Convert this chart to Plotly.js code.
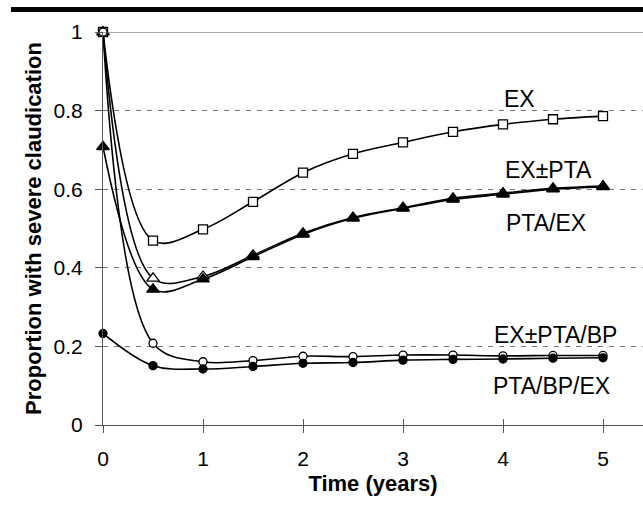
<!DOCTYPE html>
<html>
<head>
<meta charset="utf-8">
<script src="https://cdn.plot.ly/plotly-3.0.1.min.js"></script>
<style>html,body{margin:0;padding:0;background:#fff;}#chart{width:643px;height:512px;}</style>
</head>
<body>
<div id="chart"></div>
<script>
// Data
const times = [0, 0.5, 1, 1.5, 2, 2.5, 3, 3.5, 4, 4.5, 5];
const ex      = [1.000, 0.469, 0.498, 0.568, 0.642, 0.690, 0.719, 0.746, 0.765, 0.778, 0.786];
const exPta   = [1.000, 0.373, 0.378, 0.432, 0.488, 0.528, 0.553, 0.577, 0.590, 0.602, 0.608];
const ptaEx   = [0.708, 0.345, 0.371, 0.428, 0.485, 0.526, 0.551, 0.574, 0.587, 0.600, 0.606];
const exPtaBp = [1.000, 0.208, 0.161, 0.164, 0.175, 0.174, 0.178, 0.178, 0.176, 0.177, 0.177];
const ptaBpEx = [0.233, 0.151, 0.1425, 0.149, 0.157, 0.159, 0.165, 0.167, 0.168, 0.170, 0.171];

const seriesNames = ['EX', 'EX±PTA', 'PTA/EX', 'EX±PTA/BP', 'PTA/BP/EX'];
const labelX = [4.16, 4.45, 4.43, 4.52, 4.48];
const labelY = [0.83, 0.649, 0.514, 0.229, 0.099];

const xTicks = [0, 1, 2, 3, 4, 5];
const yTicks = [0, 0.2, 0.4, 0.6, 0.8, 1];
const yTickText = ['0', '0.2', '0.4', '0.6', '0.8', '1'];

const FONT = 'Liberation Sans, Arial, sans-serif';

function tr(y, sym, fill, size, name) {
  return {
    x: times, y: y, type: 'scatter', mode: 'lines+markers', name: name,
    line: {color: '#000', width: 1.6, shape: 'spline', smoothing: 1},
    marker: {symbol: sym, size: size, color: fill, line: {color: '#000', width: 1.3}},
    cliponaxis: false
  };
}

const data = [
  tr(ex, 'square', '#fff', 9, seriesNames[0]),
  tr(exPta, 'triangle-up', '#fff', 11, seriesNames[1]),
  tr(ptaEx, 'triangle-up', '#000', 11, seriesNames[2]),
  tr(exPtaBp, 'circle', '#fff', 8, seriesNames[3]),
  tr(ptaBpEx, 'circle', '#000', 8, seriesNames[4]),
  {x: [0], y: [0], xaxis: 'x2', yaxis: 'y', mode: 'markers', marker: {opacity: 0}, showlegend: false, hoverinfo: 'skip'}
];

const annotations = seriesNames.map((n, i) => ({
  x: labelX[i], y: labelY[i], text: n, showarrow: false,
  font: {family: FONT, size: 23, color: '#000'}, xanchor: 'center', yanchor: 'middle'
}));

const layout = {
  width: 643, height: 512,
  margin: {l: 103, r: 0, t: 32, b: 87},
  paper_bgcolor: '#fff', plot_bgcolor: '#fff',
  showlegend: false,
  font: {family: FONT, size: 21, color: '#000'},
  xaxis: {
    range: [0, 5.4], tickvals: xTicks, ticktext: xTicks.map(String),
    ticks: 'outside', ticklen: 7, tickcolor: '#555', tickwidth: 1,
    ticklabelstandoff: 8,
    showline: true, linecolor: '#555', linewidth: 1,
    showgrid: false, zeroline: false,
    tickfont: {family: FONT, size: 21},
    title: {text: '<b>Time (years)</b>', font: {family: FONT, size: 22}, standoff: 6}
  },
  xaxis2: {
    range: [0, 5.4], overlaying: 'x', matches: 'x', tickvals: xTicks,
    ticks: 'inside', ticklen: 6, tickcolor: '#555', tickwidth: 1,
    showticklabels: false, showgrid: false, zeroline: false, showline: false
  },
  yaxis: {
    range: [0, 1], tickvals: yTicks, ticktext: yTickText,
    ticks: 'outside', ticklen: 7, tickcolor: '#555', tickwidth: 1,
    ticklabelstandoff: 8,
    showline: true, linecolor: '#555', linewidth: 1,
    showgrid: true, gridcolor: '#777', gridwidth: 1, griddash: '5px,6px',
    zeroline: false,
    tickfont: {family: FONT, size: 21},
    title: {text: '<b>Proportion with severe claudication</b>', font: {family: FONT, size: 22}, standoff: 5}
  },
  shapes: [
    {type: 'line', xref: 'paper', yref: 'y', x0: 0, x1: 1, y0: 1, y1: 1, line: {color: '#555', width: 1}},
    {type: 'rect', xref: 'paper', yref: 'paper', x0: -0.1704, x1: 1, y0: 1.0509, y1: 1.0636, fillcolor: '#000', line: {width: 0}}
  ],
  annotations: annotations
};

Plotly.newPlot('chart', data, layout, {displayModeBar: false, staticPlot: true});
</script>
</body>
</html>
